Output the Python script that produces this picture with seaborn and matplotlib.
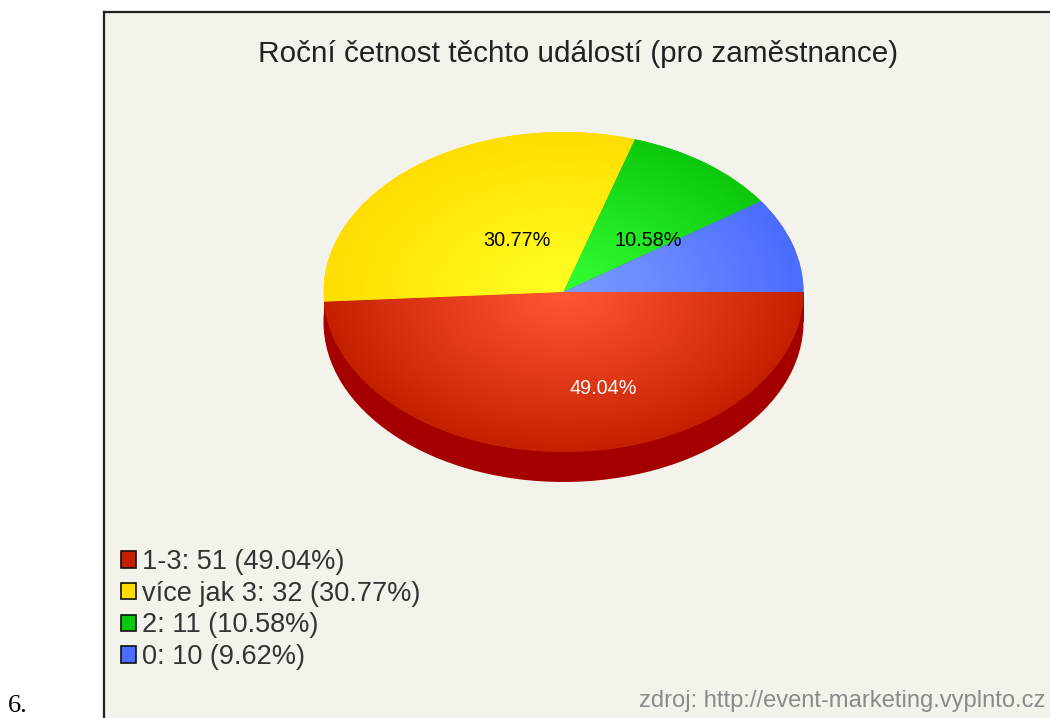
import numpy as np
import matplotlib
matplotlib.use("Agg")
import matplotlib.pyplot as plt
import seaborn as sns
from matplotlib.colors import LinearSegmentedColormap
from matplotlib.patches import Patch, Rectangle

# Data
categories = ["1-3", "více jak 3", "2", "0"]
counts = [51, 32, 11, 10]
percents = [49.04, 30.77, 10.58, 9.62]

title = "Roční četnost těchto událostí (pro zaměstnance)"
source = "zdroj: http://event-marketing.vyplnto.cz"

# Colours per slice: edge of the pie, then centre of the pie
edge_colors = ["#c42000", "#ffdd00", "#0cc80c", "#4a6cff"]
center_colors = ["#ff5533", "#ffff22", "#33ff33", "#7a9cff"]
side_color = "#a50000"
panel_color = "#f4f3eb"

sns.set_theme(style="white")
plt.rcParams["font.family"] = ["Liberation Sans", "DejaVu Sans"]

W, H = 1050, 718
fig = plt.figure(figsize=(W / 100, H / 100), dpi=100, facecolor="white")

# Panel, axes in pixel coordinates of the picture
left, top = 104, 12
ax = fig.add_axes([left / W, 0, (W - left) / W, (H - top) / H], zorder=0)
ax.set_xlim(left, W)
ax.set_ylim(H, top)
ax.set_xticks([])
ax.set_yticks([])
ax.set_facecolor(panel_color)
sns.despine(ax=ax, top=False, right=True, bottom=True)
for side in ["left", "top"]:
    ax.spines[side].set_color("#222222")
    ax.spines[side].set_linewidth(1.6)

ax.text(578, 54, title, ha="center", va="center", fontsize=21.4, color="#222222")
ax.text(1045, 701, source, ha="right", va="center", fontsize=17.1, color="#8a8a8a")
fig.text(8 / W, 1 - 712 / H, "6.", family="Liberation Serif", fontsize=19,
         ha="left", va="baseline", color="black")

handles = [Patch(facecolor=c, edgecolor="#111111", linewidth=1.2) for c in edge_colors]
labels = [f"{c}: {n} ({p:.2f}%)" for c, n, p in zip(categories, counts, percents)]
ax.legend(handles, labels, loc="upper left", bbox_to_anchor=((121 - left) / (W - left), (718 - 549) / (H - top)),
          frameon=False, fontsize=19.5, handlelength=0.55, handleheight=0.55,
          handletextpad=0.22, labelspacing=0.21, borderaxespad=0, borderpad=0,
          labelcolor="#333333")

# Pie, squashed into an ellipse (240 x 160 px), 30 px deep
cx, cy, rx, ry = 563.5, 292, 240, 160
depth = 30 / ry
x0, x1, y0, y1 = -1.05, 1.05, -1.05 - depth, 1.05
pie_ax = fig.add_axes([(cx + x0 * rx) / W, 1 - (cy - y0 * ry) / H,
                       (x1 - x0) * rx / W, (y1 - y0) * ry / H], zorder=1)
pie_ax.patch.set_visible(False)

# Side of the cylinder below the red slice
no_edge = {"edgecolor": "none", "linewidth": 0}
pie_ax.add_patch(Rectangle((-1, -depth), 2, depth, facecolor=side_color, edgecolor="none"))
pie_ax.pie([sum(counts)], colors=[side_color], center=(0, -depth), radius=1,
           frame=False, wedgeprops=no_edge)
wedges, _ = pie_ax.pie(counts, colors=edge_colors, startangle=0, counterclock=False,
                       radius=1, frame=False, wedgeprops=no_edge)

# Radial shading for every slice
gx, gy = np.meshgrid(np.linspace(-1, 1, 500), np.linspace(-1, 1, 400))
shade = np.clip(np.sqrt(gx ** 2 + gy ** 2), 0, 1) ** 1.1
for wedge, c_in, c_out in zip(wedges, center_colors, edge_colors):
    cmap = LinearSegmentedColormap.from_list("slice", [c_in, c_out])
    im = pie_ax.imshow(shade, cmap=cmap, extent=(-1, 1, -1, 1), origin="lower",
                       aspect="auto", vmin=0, vmax=1, zorder=3)
    im.set_clip_path(wedge)

pie_ax.set_aspect("auto")
pie_ax.set_xlim(x0, x1)
pie_ax.set_ylim(y0, y1)
pie_ax.axis("off")

# Value labels sit on the pie, placed in picture pixels
label_pos = [(603, 389), (517, 241), (648, 241)]
label_colors = ["white", "black", "black"]
for p, (lx, ly), col in zip(percents[:3], label_pos, label_colors):
    pie_ax.text(lx, ly, f"{p:.2f}%", transform=ax.transData, ha="center", va="center",
                fontsize=14.3, color=col, zorder=5)

plt.savefig("out.png", dpi=100)
